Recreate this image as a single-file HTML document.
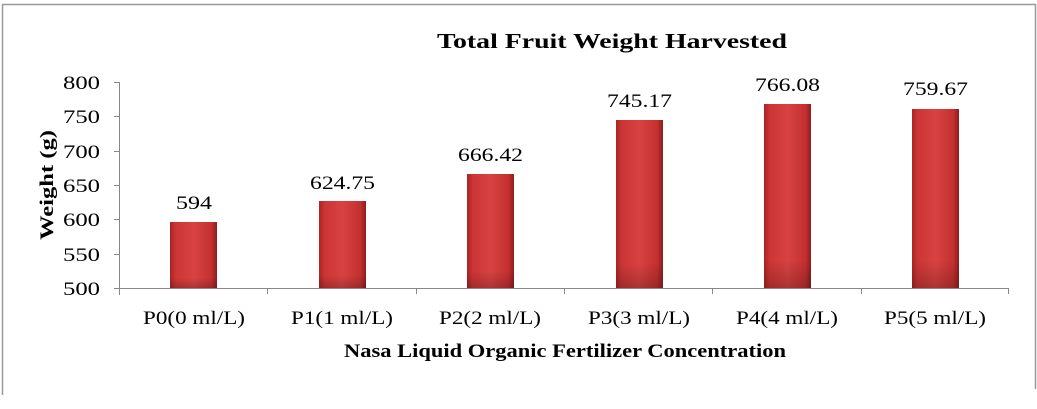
<!DOCTYPE html>
<html><head><style>
body{margin:0;background:#fff;}
svg{display:block;font-family:"Liberation Serif",serif;}
</style></head><body>
<svg width="1037" height="409" viewBox="0 0 1037 409">
<defs>
<linearGradient id="g" x1="0" x2="1" y1="0" y2="0">
<stop offset="0" stop-color="#a82424"/><stop offset="0.12" stop-color="#cc3535"/>
<stop offset="0.5" stop-color="#d84242"/><stop offset="0.88" stop-color="#c43030"/>
<stop offset="1" stop-color="#8e1e1e"/></linearGradient>
<linearGradient id="v" x1="0" x2="0" y1="0" y2="1">
<stop offset="0" stop-color="#000" stop-opacity="0"/><stop offset="0.85" stop-color="#000" stop-opacity="0"/>
<stop offset="1" stop-color="#000" stop-opacity="0.2"/></linearGradient>
</defs>
<path d="M2.5 395 V4.5 H1035.5 V389" fill="none" stroke="#999" stroke-width="1.5"/>
<text x="437" y="48" font-size="21" font-weight="bold" textLength="350" lengthAdjust="spacingAndGlyphs">Total Fruit Weight Harvested</text>
<g stroke="#888" stroke-width="1">
<line x1="119.5" y1="82" x2="119.5" y2="295"/>
<line x1="114" y1="288.5" x2="1009" y2="288.5"/>
<line x1="114" x2="119" y1="82.5" y2="82.5"/><line x1="114" x2="119" y1="116.5" y2="116.5"/>
<line x1="114" x2="119" y1="151.5" y2="151.5"/><line x1="114" x2="119" y1="185.5" y2="185.5"/>
<line x1="114" x2="119" y1="219.5" y2="219.5"/><line x1="114" x2="119" y1="254.5" y2="254.5"/>
<line x1="267.5" x2="267.5" y1="288" y2="294"/><line x1="416.5" x2="416.5" y1="288" y2="294"/>
<line x1="564.5" x2="564.5" y1="288" y2="294"/><line x1="712.5" x2="712.5" y1="288" y2="294"/>
<line x1="861.5" x2="861.5" y1="288" y2="294"/><line x1="1008.5" x2="1008.5" y1="288" y2="294"/>
</g>
<g font-size="19">
<text x="63" y="89" textLength="37" lengthAdjust="spacingAndGlyphs">800</text>
<text x="63" y="123" textLength="37" lengthAdjust="spacingAndGlyphs">750</text>
<text x="63" y="158" textLength="37" lengthAdjust="spacingAndGlyphs">700</text>
<text x="63" y="192" textLength="37" lengthAdjust="spacingAndGlyphs">650</text>
<text x="63" y="226" textLength="37" lengthAdjust="spacingAndGlyphs">600</text>
<text x="63" y="261" textLength="37" lengthAdjust="spacingAndGlyphs">550</text>
<text x="63" y="295" textLength="37" lengthAdjust="spacingAndGlyphs">500</text>
</g>
<text transform="translate(53,240) rotate(-90)" font-size="19" font-weight="bold" textLength="110" lengthAdjust="spacingAndGlyphs">Weight (g)</text>
<g>
<rect x="170" y="222" width="47" height="66" fill="url(#g)"/><rect x="170" y="222" width="47" height="66" fill="url(#v)"/>
<rect x="319" y="201" width="47" height="87" fill="url(#g)"/><rect x="319" y="201" width="47" height="87" fill="url(#v)"/>
<rect x="467" y="174" width="47" height="114" fill="url(#g)"/><rect x="467" y="174" width="47" height="114" fill="url(#v)"/>
<rect x="616" y="120" width="47" height="168" fill="url(#g)"/><rect x="616" y="120" width="47" height="168" fill="url(#v)"/>
<rect x="764" y="104" width="47" height="184" fill="url(#g)"/><rect x="764" y="104" width="47" height="184" fill="url(#v)"/>
<rect x="912" y="109" width="47" height="179" fill="url(#g)"/><rect x="912" y="109" width="47" height="179" fill="url(#v)"/>
</g>
<g font-size="19">
<text x="176" y="209" textLength="36" lengthAdjust="spacingAndGlyphs">594</text>
<text x="310" y="189" textLength="65" lengthAdjust="spacingAndGlyphs">624.75</text>
<text x="458" y="161" textLength="65" lengthAdjust="spacingAndGlyphs">666.42</text>
<text x="607" y="107" textLength="65" lengthAdjust="spacingAndGlyphs">745.17</text>
<text x="755" y="91" textLength="65" lengthAdjust="spacingAndGlyphs">766.08</text>
<text x="903" y="95" textLength="65" lengthAdjust="spacingAndGlyphs">759.67</text>
</g>
<g font-size="19">
<text x="143" y="324" textLength="102" lengthAdjust="spacingAndGlyphs">P0(0 ml/L)</text>
<text x="291" y="324" textLength="102" lengthAdjust="spacingAndGlyphs">P1(1 ml/L)</text>
<text x="439" y="324" textLength="102" lengthAdjust="spacingAndGlyphs">P2(2 ml/L)</text>
<text x="588" y="324" textLength="102" lengthAdjust="spacingAndGlyphs">P3(3 ml/L)</text>
<text x="736" y="324" textLength="102" lengthAdjust="spacingAndGlyphs">P4(4 ml/L)</text>
<text x="884" y="324" textLength="102" lengthAdjust="spacingAndGlyphs">P5(5 ml/L)</text>
</g>
<text x="344" y="357" font-size="19" font-weight="bold" textLength="442" lengthAdjust="spacingAndGlyphs">Nasa Liquid Organic Fertilizer Concentration</text>
</svg>
</body></html>
